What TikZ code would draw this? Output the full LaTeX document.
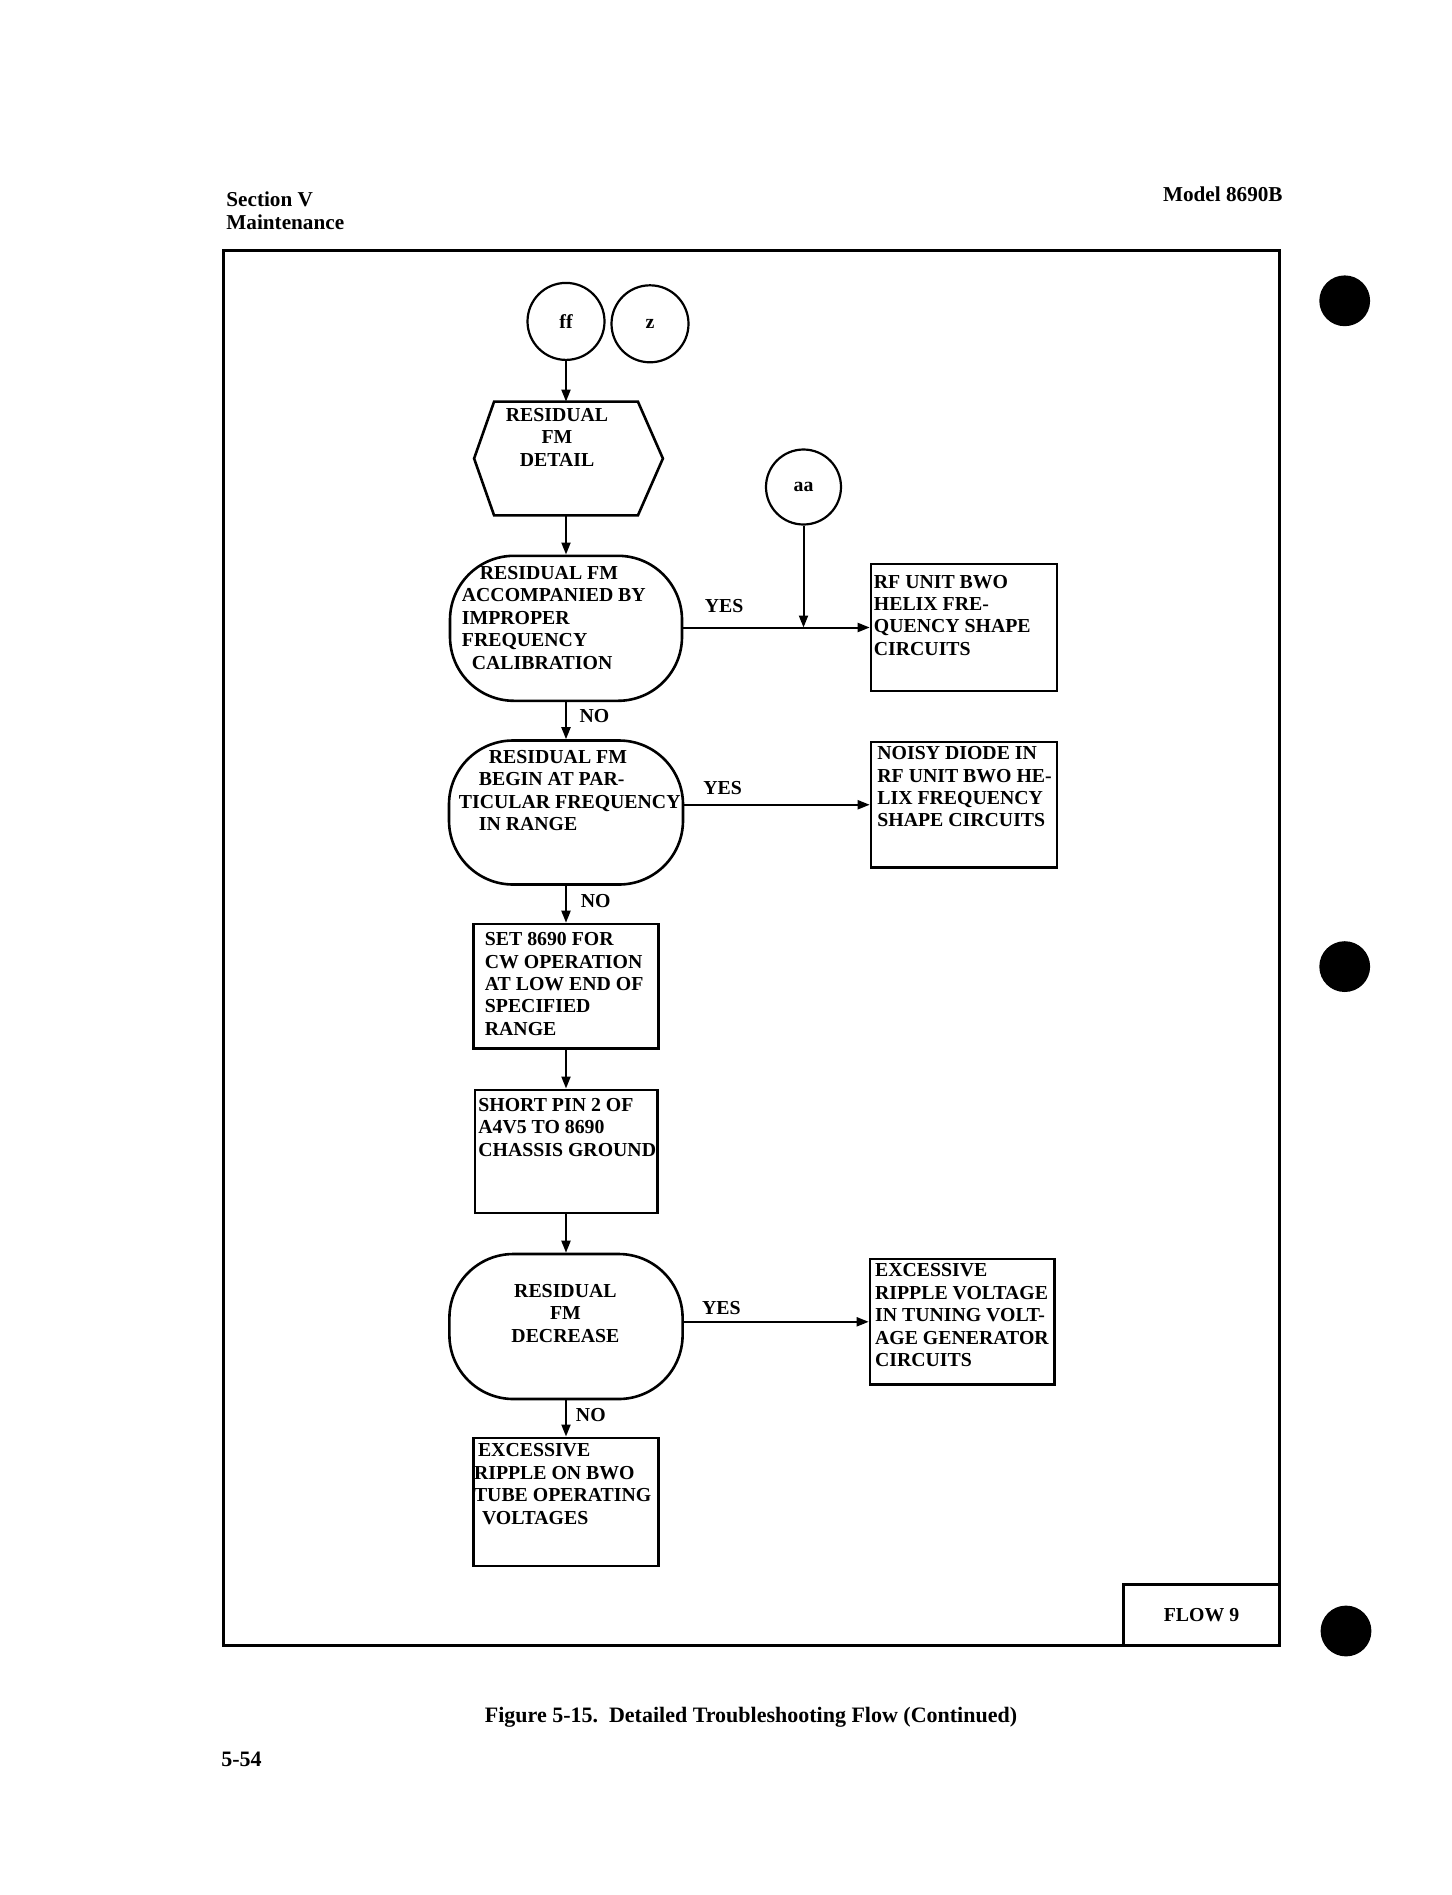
\documentclass[tikz,border=0pt]{standalone}
\usepackage{fontspec}
\setmainfont{Liberation Serif}
\usetikzlibrary{arrows.meta}
\newcommand{\flowfont}{\fontsize{9.9}{11.2}\selectfont\bfseries}
\newcommand{\pagefont}{\fontsize{10.6}{12}\selectfont\bfseries}
\begin{document}
\begin{tikzpicture}[x=0.5pt,y=-0.5pt,
	boxline/.style={draw,line width=1.3pt},
	stepbox/.style={boxline,rectangle,inner sep=0pt},
	decision/.style={boxline,rectangle,rounded corners=32pt,inner sep=0pt},
	connector/.style={draw,circle,line width=1.1pt,minimum size=38.5pt,inner sep=0pt,font=\flowfont},
	txt/.style={anchor=north west,inner sep=0pt,align=left,font=\flowfont},
	answer/.style={inner sep=0pt,font=\flowfont},
	flow/.style={line width=1pt,-{Triangle[length=6pt,width=4.5pt]}}]
	\useasboundingbox (0,0) rectangle (1451,1895);
	\fill[white] (0,0) rectangle (1451,1895);
	\node[anchor=west,inner sep=0pt,font=\pagefont] (section) at (226,199.4) {Section V};
	\node[anchor=west,inner sep=0pt,font=\pagefont] (maint) at (226,222.3) {Maintenance};
	\node[anchor=east,inner sep=0pt,font=\pagefont] (model) at (1283,194.5) {Model 8690B};
	\draw[line width=1.5pt] (223.5,250) rectangle (1279.5,1645.6);
	\node[draw,line width=1.5pt,minimum width=78pt,minimum height=30.8pt,inner sep=0pt,font=\flowfont] (flowno) at (1201.5,1614.8) {FLOW 9};
	\fill (1344.7,300.8) circle (12.7pt);
	\fill (1344.7,966.6) circle (12.7pt);
	\fill (1346,1631) circle (12.7pt);
	\node[connector] (ff) at (566,321.4) {ff};
	\node[connector] (z) at (650,323.8) {z};
	\node[connector,minimum size=37.5pt] (aa) at (803.5,487) {aa};
	\node[minimum width=71.5pt,minimum height=56.5pt,inner sep=0pt] (detail) at (566,458.5) {};
	\draw[boxline] (detail.north west) -- (detail.north east) -- ([xshift=12.5pt]detail.east)
		-- (detail.south east) -- (detail.south west) -- ([xshift=-10pt]detail.west) -- cycle;
	\node[txt,anchor=north,align=center] (detailtxt) at (557,408) {RESIDUAL\\FM\\DETAIL};
	\node[decision,minimum width=116pt,minimum height=72.5pt] (calib) at (566,628.3) {};
	\node[txt] (calibtxt) at (461.5,566) {\hspace*{9pt}RESIDUAL FM\\ACCOMPANIED BY\\IMPROPER\\FREQUENCY\\\hspace*{5pt}CALIBRATION};
	\node[stepbox,minimum width=93pt,minimum height=63.5pt] (helix) at (964,627.5) {};
	\node[txt] (helixtxt) at (873.5,574.6) {RF UNIT BWO\\HELIX FRE-\\QUENCY SHAPE\\CIRCUITS};
	\node[decision,minimum width=117pt,minimum height=72pt] (partic) at (566,812.5) {};
	\node[txt] (partictxt) at (458.5,749.7) {\hspace*{15pt}RESIDUAL FM\\\hspace*{10pt}BEGIN AT PAR-\\TICULAR FREQUENCY\\\hspace*{10pt}IN RANGE};
	\node[stepbox,minimum width=93pt,minimum height=62.75pt] (diode) at (964,804.75) {};
	\node[txt] (diodetxt) at (877,746.2) {NOISY DIODE IN\\RF UNIT BWO HE-\\LIX FREQUENCY\\SHAPE CIRCUITS};
	\node[stepbox,minimum width=92.45pt,minimum height=62.35pt] (setcw) at (566,986.35) {};
	\node[txt] (setcwtxt) at (484.5,932.2) {SET 8690 FOR\\CW OPERATION\\AT LOW END OF\\SPECIFIED\\RANGE};
	\node[stepbox,minimum width=91.2pt,minimum height=61.6pt] (short) at (566,1151.4) {};
	\node[txt] (shorttxt) at (478,1097.8) {SHORT PIN 2 OF\\A4V5 TO 8690\\CHASSIS GROUND};
	\node[decision,minimum width=116.6pt,minimum height=72.5pt] (decrease) at (566,1326.5) {};
	\node[txt,anchor=north,align=center] (decreasetxt) at (565.4,1284) {RESIDUAL\\FM\\DECREASE};
	\node[stepbox,minimum width=92.35pt,minimum height=62.8pt] (ripple) at (962.35,1321.8) {};
	\node[txt] (rippletxt) at (874.7,1263.3) {EXCESSIVE\\RIPPLE VOLTAGE\\IN TUNING VOLT-\\AGE GENERATOR\\CIRCUITS};
	\node[stepbox,minimum width=92.5pt,minimum height=64pt] (tube) at (566,1501.8) {};
	\node[txt] (tubetxt) at (473.6,1443.3) {\hspace*{2pt}EXCESSIVE\\RIPPLE ON BWO\\TUBE OPERATING\\\hspace*{4pt}VOLTAGES};
	\coordinate (aajoin) at (aa |- helix.west);
	\draw[flow] (ff) -- (detail);
	\draw[flow] (detail) -- (calib);
	\draw[flow] (calib.east |- helix.west) -- (helix.west);
	\draw[flow] (aa) -- (aajoin);
	\draw[flow] (calib) -- (partic);
	\draw[flow] (partic.east |- diode.west) -- (diode.west);
	\draw[flow] (partic) -- (setcw);
	\draw[flow] (setcw) -- (short);
	\draw[flow] (short) -- (decrease);
	\draw[flow] (decrease.east |- ripple.west) -- (ripple.west);
	\draw[flow] (decrease) -- (tube);
	\node[answer] (yes1) at (724,606.5) {YES};
	\node[answer] (no1) at (594.4,716.5) {NO};
	\node[answer] (yes2) at (722.5,787.7) {YES};
	\node[answer] (no2) at (595.6,901.3) {NO};
	\node[answer] (yes3) at (721.3,1308.5) {YES};
	\node[answer] (no3) at (590.8,1414.8) {NO};
	\node[font=\fontsize{11}{13}\selectfont\bfseries] (caption) at (751,1717) {Figure 5-15.\ \ Detailed Troubleshooting Flow (Continued)};
	\node[anchor=west,inner sep=0pt,font=\fontsize{11}{13}\selectfont\bfseries] (pageno) at (221,1759) {5-54};
\end{tikzpicture}
\end{document}
